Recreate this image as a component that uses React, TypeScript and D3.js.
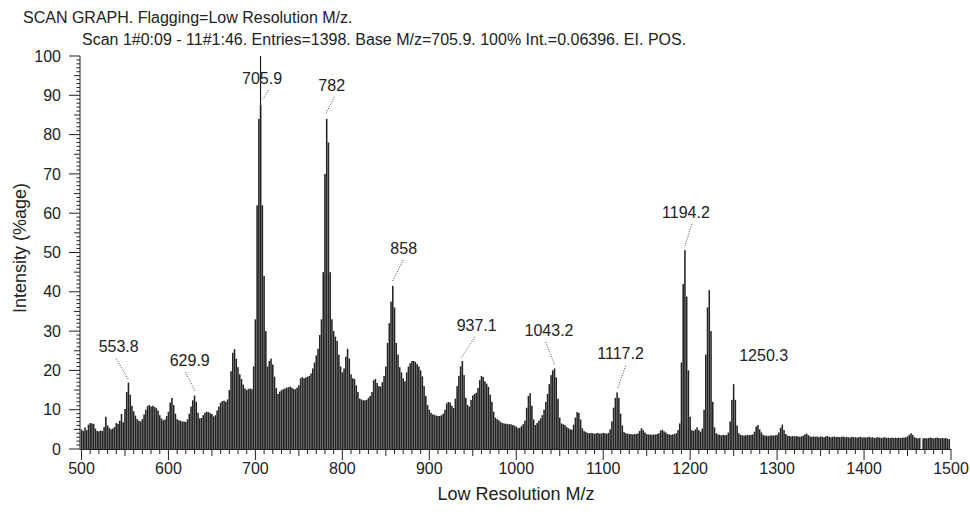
import * as d3 from "d3";

// Scan parameters
const mzStart = 500;
const mzStep = 2;

// Relative intensity (%) sampled every 2 m/z, from 500 to 1498
const intensity = [
  5.0, 4.6, 5.5, 4.8, 6.2, 6.6, 6.5, 6.4, 5.2, 4.6,
  4.5, 4.7, 4.6, 5.6, 8.2, 6.0, 5.4, 5.0, 5.2, 5.6,
  6.6, 6.4, 7.2, 8.9, 6.8, 10.2, 14.5, 16.9, 13.8, 11.0,
  9.6, 8.5, 7.6, 7.2, 7.0, 7.6, 8.8, 10.0, 10.9, 11.2,
  10.8, 11.0, 10.7, 10.4, 9.8, 8.6, 7.8, 7.3, 7.5, 8.4,
  9.5, 11.8, 13.0, 11.2, 9.0, 7.6, 7.3, 7.2, 7.0, 7.0,
  6.9, 7.6, 9.0, 10.8, 12.4, 13.6, 12.0, 9.2, 7.8, 7.9,
  8.6, 9.2, 9.5, 9.4, 9.1, 8.9, 8.3, 8.6, 9.8, 10.8,
  11.8, 12.2, 12.3, 12.0, 12.6, 15.0, 19.8, 24.5, 25.4, 23.0,
  20.8, 19.0, 17.8, 16.4, 15.4, 15.0, 15.3, 15.4, 15.2, 21.0,
  33.0, 62.0, 84.0, 87.5, 62.0, 44.0, 30.0, 21.0, 22.4, 23.0,
  21.5, 18.4, 15.5, 14.0, 14.6, 15.0, 15.2, 15.4, 15.6, 15.7,
  15.9, 15.6, 15.3, 15.2, 15.6, 16.2, 18.0, 18.3, 18.0, 18.2,
  18.4, 18.6, 19.2, 20.5, 22.0, 23.8, 25.5, 29.0, 33.0, 45.0,
  70.0, 84.0, 78.0, 45.0, 33.0, 30.0, 28.6, 27.5, 24.0, 21.0,
  19.5, 20.5, 23.5, 25.5, 23.0, 19.0, 18.0, 17.8, 16.2, 14.5,
  12.8, 12.6, 12.4, 12.4, 12.5, 13.0, 13.5, 14.5, 17.5, 17.8,
  16.8, 16.0, 15.9, 17.0, 18.6, 21.0, 27.0, 32.0, 37.5, 41.5,
  36.0, 27.0, 24.0, 20.8, 19.5, 18.0, 17.2, 19.5, 21.0, 21.8,
  22.4, 22.4, 22.2, 21.6, 21.0, 20.0, 18.5, 16.0, 13.5, 11.2,
  10.0, 9.2, 8.8, 8.7, 8.5, 8.4, 8.4, 8.6, 9.0, 10.0,
  11.6, 12.0, 11.8, 11.0, 10.4, 12.8, 16.0, 18.6, 21.0, 22.4,
  18.8, 13.0, 11.2, 10.8, 12.5, 13.6, 14.0, 14.3, 15.5, 17.5,
  18.6, 18.3, 17.2, 16.6, 15.8, 13.8, 12.0, 9.5, 8.0, 7.6,
  7.3, 6.9, 6.6, 6.5, 6.4, 6.4, 6.3, 6.3, 6.1, 5.9,
  5.7, 5.3, 5.4, 5.8, 6.3, 7.2, 10.5, 13.5, 14.2, 11.0,
  7.5, 6.1, 6.6, 7.2, 7.8, 8.6, 10.0, 12.0, 14.0, 16.5,
  18.8, 20.0, 20.5, 18.2, 12.8, 8.0, 6.5, 6.3, 6.1, 5.6,
  5.3, 5.0, 4.9, 6.2, 8.0, 9.4, 9.2, 7.5, 5.3, 4.6,
  4.3, 4.1, 4.0, 4.1, 4.0, 3.9, 4.0, 4.1, 3.9, 4.0,
  4.1, 4.0, 3.9, 4.1, 5.0, 7.0, 10.5, 13.0, 14.4, 13.0,
  9.0, 6.0, 4.3, 4.0, 3.9, 3.8, 3.8, 3.7, 3.8, 3.8,
  4.0, 4.6, 5.3, 4.8, 4.2, 3.8, 3.7, 3.7, 3.6, 3.7,
  3.7, 3.8, 4.0, 4.7, 4.9, 4.5, 4.2, 3.8, 3.7, 3.6,
  3.7, 3.8, 4.0, 4.8, 6.5, 22.0, 42.0, 50.6, 38.8, 20.0,
  8.2, 4.8, 4.6, 5.0, 5.5, 4.8, 4.4, 5.2, 10.0, 24.0,
  36.0, 40.4, 30.0, 12.0, 5.5, 4.0, 3.7, 3.6, 3.5, 3.6,
  3.5, 3.6, 4.2, 7.0, 12.5, 16.5, 12.5, 6.0, 4.0, 3.6,
  3.5, 3.4, 3.5, 3.6, 3.5, 3.6, 3.7, 4.4, 5.7, 6.1,
  5.0, 4.2, 3.6, 3.4, 3.4, 3.3, 3.4, 3.5, 3.4, 3.5,
  3.6, 4.2, 5.4, 6.2, 4.8, 3.8, 3.4, 3.3, 3.2, 3.3,
  3.2, 3.3, 3.2, 3.1, 3.2, 3.4, 3.7, 3.9, 3.5, 3.2,
  3.1, 3.2, 3.1, 3.2, 3.0, 3.2, 3.1, 3.0, 3.2, 3.3,
  3.1, 3.0, 3.1, 3.2, 3.0, 3.1, 3.0, 3.1, 3.2, 3.0,
  3.1, 3.0, 2.9, 3.1, 3.0, 3.0, 2.9, 3.0, 3.1, 2.9,
  3.0, 2.9, 3.0, 3.1, 2.9, 3.0, 2.8, 2.9, 3.0, 2.9,
  2.8, 2.9, 3.0, 2.8, 2.9, 2.8, 2.9, 2.8, 2.9, 2.8,
  2.9, 2.8, 2.9, 2.9, 3.0, 3.2, 3.6, 4.0, 3.6, 3.0,
  2.8, 2.7, 2.8, 0, 2.7, 2.8, 2.7, 2.8, 2.9, 2.8,
  2.7, 2.8, 2.9, 2.8, 2.7, 2.8, 2.7, 2.8, 2.6, 2.5,
];

// base peak stick
const basePeakMz = 705.9;
const basePeakIntensity = 100;

// labelled peaks
const peakMz = [553.8, 629.9, 705.9, 782, 858, 937.1, 1043.2, 1117.2, 1194.2, 1250.3];
const peakText = ["553.8", "629.9", "705.9", "782", "858", "937.1", "1043.2", "1117.2", "1194.2", "1250.3"];
const peakIntensity = [16.9, 13.7, 89, 84.1, 41.5, 22.4, 20.5, 14.4, 50.6, 16.5];

const xTicks = [500, 600, 700, 800, 900, 1000, 1100, 1200, 1300, 1400, 1500];
const yTicks = [0, 10, 20, 30, 40, 50, 60, 70, 80, 90, 100];

const title1 = "SCAN GRAPH. Flagging=Low Resolution M/z.";
const title2 = "Scan 1#0:09 - 11#1:46. Entries=1398. Base M/z=705.9. 100% Int.=0.06396. EI. POS.";
const xTitle = "Low Resolution M/z";
const yTitle = "Intensity (%age)";

// label placement relative to peak tip: [dx, dy, leaderStartDx, leaderEndDx, leaderEndDy, hasLeader]
const labelLayout = [
  [-9.6, -35.9, -2.4, 0.4, -2.6, 1],
  [-4.7, -35.2, -4.4, 0.3, -4.5, 1],
  [1.5, -21.2, 6.3, 2.8, 0, 1],
  [5, -33.5, 2.6, -0.7, -5.2, 1],
  [10.9, -37.9, -0.4, -0.5, -4.2, 1],
  [15.1, -36, -1.7, -0.6, -2.7, 1],
  [-4.8, -38.4, -3.3, 0.5, -4.4, 1],
  [2.4, -38.7, 5.2, -0.8, -3.1, 1],
  [0.8, -38, 6, -0.2, -4, 1],
  [29.8, -29, 0, 0, 0, 0],
];

const W = 970;
const H = 517;
const FONT = "'Liberation Sans', Arial, sans-serif";
const INK = "#222";

export default function App() {
  const x = d3.scaleLinear().domain([500, 1500]).range([81.5, 951]);
  const y = d3.scaleLinear().domain([0, 100]).range([449, 56]);

  const minorX = d3.range(500, 1501, 10);
  const minorY = d3.range(0, 101, 1);

  const bars = intensity.map((v, i) => ({ mz: mzStart + i * mzStep, v }));
  const barW = (x(mzStart + mzStep) - x(mzStart)) * 0.9;

  return (
    <svg
      width={W}
      height={H}
      viewBox={`0 0 ${W} ${H}`}
      style={{ position: "absolute", left: 0, top: 0, background: "#fff" }}
      fontFamily={FONT}
    >
      <rect width={W} height={H} fill="#fff" />

      {/* titles */}
      <text x={23} y={23} fontSize={16} fill={INK}>{title1}</text>
      <text x={82} y={45} fontSize={16} fill={INK}>{title2}</text>

      {/* spectrum sticks */}
      <g fill="#242424">
        {bars.filter(d => d.v > 0).map((d, i) => (
          <rect key={i} x={x(d.mz) - barW / 2} width={barW} y={y(d.v)} height={y(0) - y(d.v)} />
        ))}
      </g>
      <line x1={x(basePeakMz)} x2={x(basePeakMz)} y1={y(0)} y2={y(basePeakIntensity)} stroke="#222" strokeWidth={1.2} />

      {/* y axis */}
      <g stroke={INK} strokeWidth={1}>
        <line x1={80} x2={80} y1={y(100)} y2={y(0)} />
        {minorY.map(t => (
          <line key={t} x1={80 - (t % 10 === 0 ? 11 : t % 5 === 0 ? 6 : 3.5)} x2={80} y1={y(t)} y2={y(t)} />
        ))}
      </g>
      {yTicks.map(t => (
        <text key={t} x={61} y={y(t) + 5.6} fontSize={16} textAnchor="end" fill={INK}>{t}</text>
      ))}
      <text
        transform={`translate(25.5, 248) rotate(-90)`}
        fontSize={18}
        textAnchor="middle"
        fill={INK}
      >
        {yTitle}
      </text>

      {/* x axis */}
      <g stroke={INK} strokeWidth={1}>
        <line x1={80} x2={x(1500)} y1={y(0) + 0.5} y2={y(0) + 0.5} />
        {minorX.map(t => (
          <line key={t} x1={x(t)} x2={x(t)} y1={y(0)} y2={y(0) + (t % 100 === 0 ? 11 : t % 50 === 0 ? 7 : 5)} />
        ))}
      </g>
      {xTicks.map(t => (
        <text key={t} x={x(t)} y={473.5} fontSize={16} textAnchor="middle" fill={INK}>{t}</text>
      ))}
      <text x={516} y={500} fontSize={18} textAnchor="middle" fill={INK}>{xTitle}</text>

      {/* peak labels */}
      {peakMz.map((mz, i) => {
        const [dx, dy, lsx, lex, ley, lead] = labelLayout[i];
        const tx = x(mz);
        const ty = y(peakIntensity[i]);
        const cx = tx + dx;
        const cy = ty + dy;
        return (
          <g key={peakText[i]}>
            <text x={cx} y={cy + 5.6} fontSize={16} textAnchor="middle" fill={INK}>{peakText[i]}</text>
            {lead ? (
              <line
                x1={cx + lsx}
                y1={cy + 12}
                x2={tx + lex}
                y2={ty + ley}
                stroke="#444"
                strokeWidth={1}
                strokeDasharray="1 1.5"
              />
            ) : null}
          </g>
        );
      })}
    </svg>
  );
}
